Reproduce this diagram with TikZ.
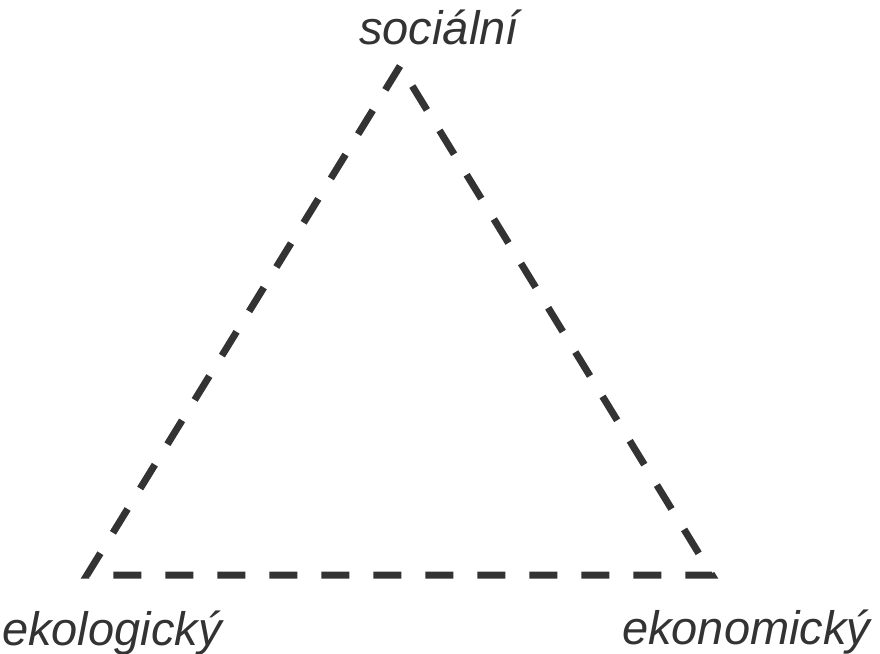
\documentclass[tikz,border=0pt]{standalone}
\usepackage{fontspec}
\setmainfont{Liberation Sans}
\begin{document}
\begin{tikzpicture}[x=1pt,y=-1pt,
  edge/.style={draw=black!80, line width=7pt, dash pattern=on 28pt off 24pt},
  lbl/.style={font=\fontsize{47}{50}\selectfont\itshape, text=black!80, inner sep=0pt}]
\useasboundingbox (0,0) rectangle (880,653);
\coordinate (s) at (400,66);
\coordinate (l) at (87,575);
\coordinate (r) at (712,575);
\draw[edge] (s) -- (l) -- (r) -- cycle;
\node[lbl, anchor=base] (ts) at (439,44) {sociální};
\node[lbl, anchor=base west] (tl) at (2,645) {ekologický};
\node[lbl, anchor=base west] (tr) at (622,644) {ekonomický};
\end{tikzpicture}
\end{document}
